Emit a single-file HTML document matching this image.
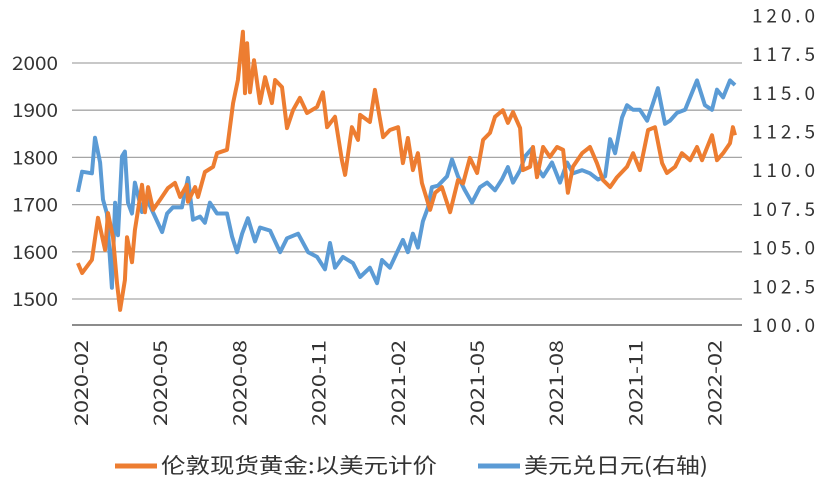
<!DOCTYPE html>
<html><head><meta charset="utf-8"><style>
body{margin:0;background:#fff;}
svg text{font-family:"WenQuanYi Zen Hei","Noto Sans CJK SC",sans-serif;}
</style></head><body>
<svg id="chart" width="826" height="483" xmlns="http://www.w3.org/2000/svg">
<g id="grid"></g><g id="lines"></g><g id="axes"></g>
<g>
<line x1="115" y1="466" x2="157" y2="466" stroke="#ED7D31" stroke-width="5"/>
<text x="161" y="473" font-size="21" fill="#333" textLength="276" lengthAdjust="spacingAndGlyphs">伦敦现货黄金:以美元计价</text>
<line x1="478" y1="466" x2="520" y2="466" stroke="#5B9BD5" stroke-width="5"/>
<text x="524" y="473" font-size="21" fill="#333" textLength="184" lengthAdjust="spacingAndGlyphs">美元兑日元(右轴)</text>
</g>
</svg>
<script>
const monthLabels=["2020-02","2020-05","2020-08","2020-11","2021-02","2021-05","2021-08","2021-11","2022-02"];
const monthOffsets=[0,3,6,9,12,15,18,21,24];
const leftTicks=[1500,1600,1700,1800,1900,2000];
const rightTicks=[100,102.5,105,107.5,110,112.5,115,117.5,120];
const goldT=[-0.08,.08,.45,.68,.95,1.06,1.25,1.40,1.52,1.70,1.78,1.97,2.08,2.35,2.46,2.58,2.77,3.03,3.33,3.60,3.79,4.05,4.09,4.36,4.47,4.73,5.04,5.19,5.57,5.80,5.98,6.17,6.25,6.33,6.44,6.59,6.82,7.01,7.27,7.39,7.65,7.84,8.07,8.33,8.60,8.98,9.20,9.36,9.66,9.92,10.04,10.30,10.53,10.61,10.98,11.17,11.48,11.74,12.05,12.23,12.42,12.61,12.80,12.95,13.26,13.45,13.71,14.02,14.32,14.51,14.77,15.04,15.27,15.53,15.72,16.02,16.21,16.40,16.67,16.78,17.05,17.16,17.31,17.54,17.80,18.07,18.30,18.48,18.67,19.02,19.32,19.58,19.81,20.08,20.34,20.72,20.95,21.21,21.52,21.78,22.05,22.23,22.54,22.80,23.11,23.37,23.56,23.94,24.13,24.36,24.62,24.73,24.81];
const goldV=[1576,1555,1583,1672,1604,1682,1631,1534,1477,1540,1631,1578,1646,1742,1684,1737,1689,1710,1735,1746,1716,1742,1706,1737,1716,1769,1780,1809,1816,1915,1964,2066,1936,2042,1938,2006,1915,1970,1915,1964,1949,1862,1900,1926,1894,1907,1938,1864,1886,1794,1763,1864,1837,1890,1875,1943,1843,1858,1864,1788,1841,1773,1809,1746,1689,1725,1737,1684,1752,1745,1799,1767,1837,1852,1886,1900,1873,1896,1862,1773,1780,1822,1758,1822,1801,1822,1816,1725,1780,1809,1822,1788,1752,1737,1758,1780,1809,1773,1858,1864,1788,1767,1780,1809,1794,1822,1794,1847,1794,1809,1830,1864,1847];
const yenT=[-0.08,.08,.45,.57,.76,.87,1.02,1.21,1.33,1.44,1.59,1.70,1.82,1.97,2.08,2.35,2.54,2.84,3.11,3.30,3.52,3.86,4.09,4.28,4.55,4.73,4.92,5.19,5.57,5.76,5.95,6.14,6.36,6.63,6.82,7.20,7.58,7.84,8.26,8.64,8.98,9.28,9.47,9.66,9.96,10.34,10.61,10.98,11.25,11.44,11.74,12.01,12.23,12.42,12.61,12.80,12.99,13.18,13.33,13.56,13.90,14.09,14.32,14.58,14.85,15.15,15.42,15.72,15.98,16.21,16.40,16.67,16.86,17.12,17.31,17.54,17.88,18.18,18.45,18.67,19.02,19.32,19.62,19.89,20.08,20.27,20.53,20.72,20.95,21.21,21.48,21.70,21.89,22.16,22.35,22.61,22.92,23.11,23.37,23.67,23.94,24.13,24.36,24.62,24.81];
const yenV=[108.6,109.9,109.8,112.1,110.5,108.1,107.2,102.4,107.9,105.8,110.9,111.2,107.9,107.2,109.2,107.3,108.1,107.0,106.0,107.2,107.6,107.6,109.5,106.8,107.0,106.6,107.9,107.2,107.2,105.7,104.7,105.9,106.9,105.4,106.3,106.1,104.7,105.6,105.9,104.7,104.4,103.6,105.3,103.7,104.4,104.0,103.1,103.7,102.7,104.2,103.7,104.7,105.5,104.7,105.9,105.0,106.7,107.6,108.9,109.0,109.6,110.7,109.6,108.7,107.9,108.9,109.2,108.7,109.4,110.2,109.2,110.0,110.9,111.4,110.2,109.6,110.5,109.2,110.5,109.8,110.0,109.8,109.4,109.6,112.0,111.1,113.4,114.2,113.9,113.9,113.2,114.3,115.3,113.0,113.2,113.7,113.9,114.7,115.8,114.2,113.9,115.2,114.7,115.8,115.5];
const NS="http://www.w3.org/2000/svg";
const PL=72,PR=742,AX=325;
const x=t=>80+t*26.4;
const yL=v=>63+(2000-v)*0.472;
const yR=v=>325-(v-100)*15.48;
function mk(tag,attrs,parent,txt){const e=document.createElementNS(NS,tag);for(const k in attrs)e.setAttribute(k,attrs[k]);if(txt!==undefined)e.textContent=txt;parent.appendChild(e);return e;}
const grid=document.getElementById('grid'),axes=document.getElementById('axes'),lines=document.getElementById('lines');
leftTicks.forEach(v=>{
 const g=mk('line',{x1:PL,x2:PR,y1:yL(v),y2:yL(v),stroke:'#a6a6a6','stroke-width':1.3},grid);
 
 
 const t=mk('text',{x:58,y:yL(v)+7,'text-anchor':'end','font-size':19,fill:'#333',textLength:46,lengthAdjust:'spacingAndGlyphs'},axes,String(v));
 
 
});
rightTicks.forEach(v=>{
 const t=mk('text',{x:752,y:yR(v)+7,'font-size':19,fill:'#333',textLength:63,lengthAdjust:'spacing'},axes,v.toFixed(1));
 
 
});
const ax=mk('line',{x1:PL,x2:PR,y1:AX,y2:AX,stroke:'#8c8c8c','stroke-width':2},axes);


monthLabels.forEach((m,i)=>{
 const px=x(monthOffsets[i])+8;
 const t=mk('text',{x:px,y:340,'text-anchor':'end','font-size':19,fill:'#333',textLength:86,lengthAdjust:'spacingAndGlyphs',transform:`rotate(-90 ${px} 340)`},axes,m);
 
 
});
function path(T,V,ys){return T.map((t,i)=>(i?'L':'M')+x(t).toFixed(1)+','+ys(V[i]).toFixed(1)).join(' ');}
const yp=mk('path',{d:path(yenT,yenV,yR),fill:'none',stroke:'#5B9BD5','stroke-width':4,'stroke-linejoin':'round'},lines);


const gp=mk('path',{d:path(goldT,goldV,yL),fill:'none',stroke:'#ED7D31','stroke-width':4,'stroke-linejoin':'round'},lines);


</script>
</body></html>
